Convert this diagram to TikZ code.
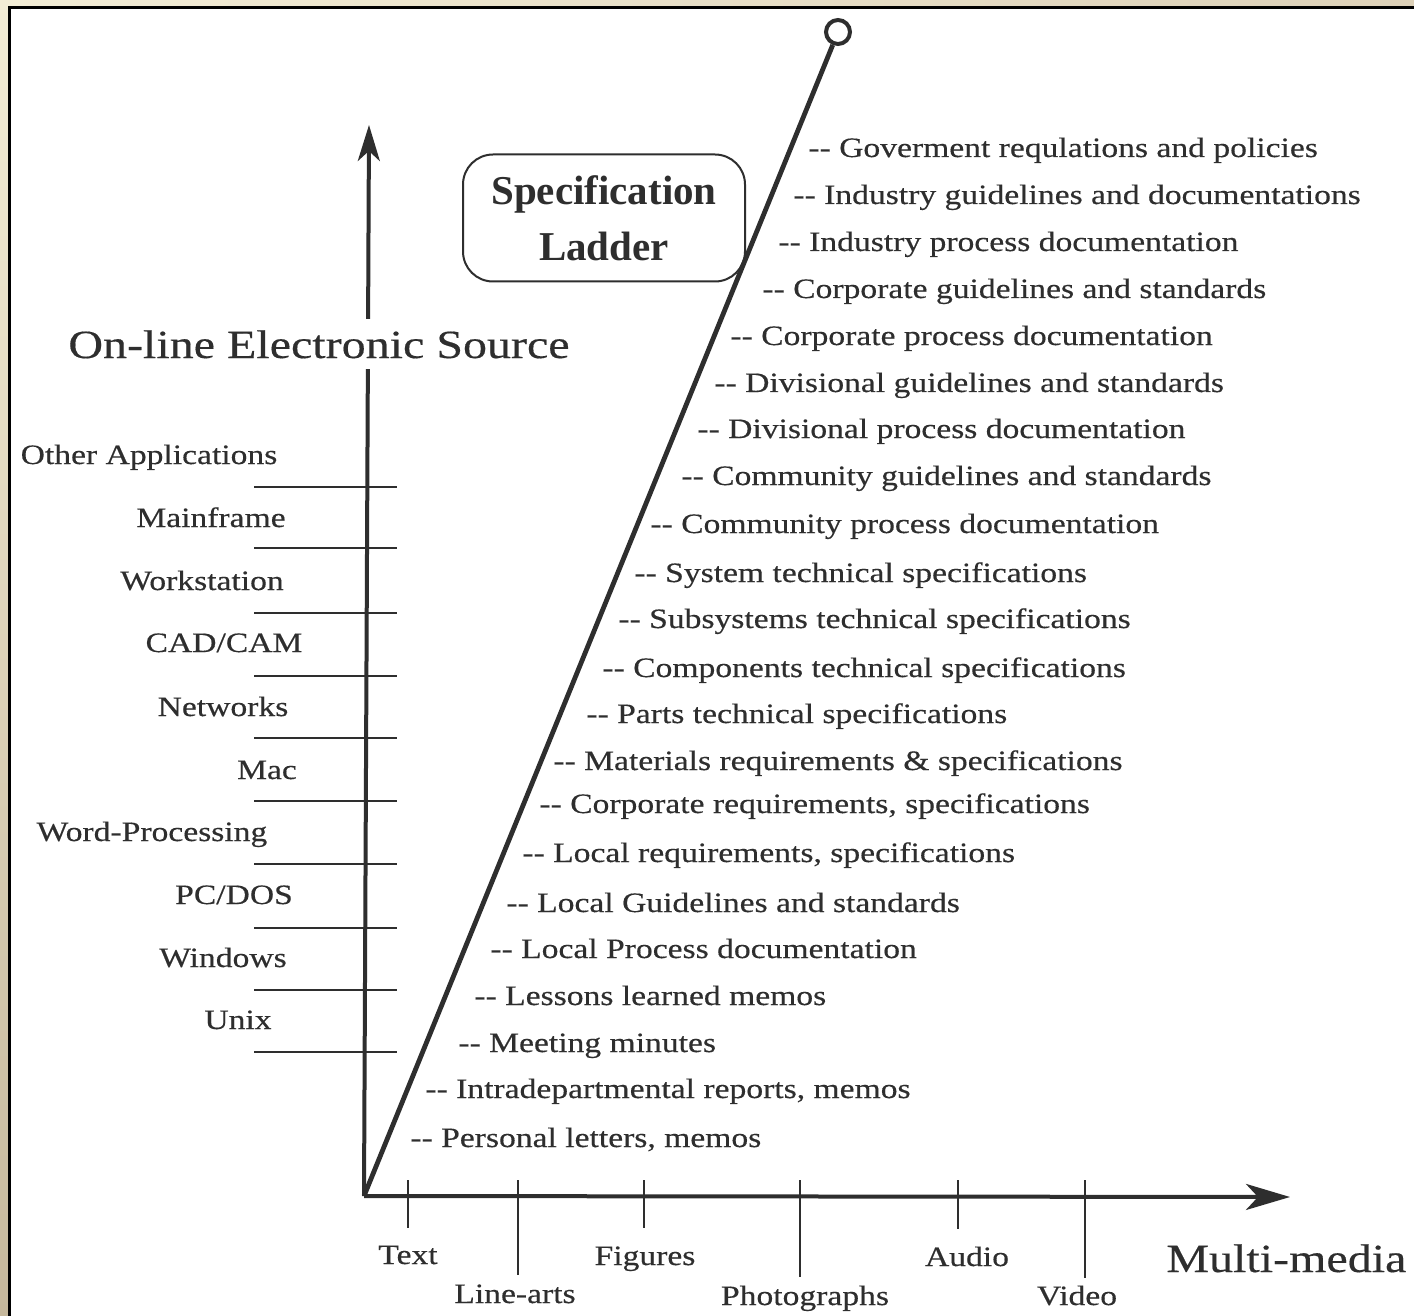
\documentclass[tikz,border=0pt]{standalone}
\usepackage{fontspec}
\setmainfont{Liberation Serif}[FakeStretch=1.2,FakeBold=0.4]
\newfontfamily\specfont{Liberation Serif}
\usetikzlibrary{arrows.meta}
\definecolor{ink}{HTML}{2E2E2E}
\definecolor{tanlight}{HTML}{F3EDD6}
\definecolor{tandark}{HTML}{C6B89C}
\definecolor{tanmid}{HTML}{DDD1B8}
\newcommand\mydd{-{}-}
\begin{document}
\begin{tikzpicture}[x=0.5pt,y=-0.5pt,
  txt/.style={inner sep=0pt,text=ink,font=\fontsize{14}{16}\selectfont},
  item/.style={txt,anchor=base west},
  lab/.style={txt,anchor=base},
  big/.style={inner sep=0pt,text=ink,font=\fontsize{20}{24}\selectfont,anchor=base west},
  axis/.style={draw=ink,line width=2pt},
  tick/.style={draw=ink,line width=0.9pt},
  specbox/.style={draw=ink,line width=1pt,rounded corners=15pt,minimum width=141pt,minimum height=63.5pt,inner sep=0pt},
  topring/.style={circle,draw=ink,line width=2pt,minimum size=12pt,inner sep=0pt,fill=white}
]
\useasboundingbox (0,0) rectangle (1414,1316);
% frame
\fill[tanmid] (0,0) rectangle (1414,1316);
\shade[left color=tanlight,right color=tanmid] (0,0) rectangle (1414,9);
\shade[top color=tanlight,bottom color=tandark] (0,0) rectangle (9,1316);
\fill[white] (9,8) rectangle (1414,1316);
\draw[black,line width=1.5pt] (9,1316) -- (9,8) -- (1414,8);

% axes
\coordinate (O) at (364,1196);
\coordinate (ytip) at (369,125);
\coordinate (xtip) at (1290,1197);
\node[topring] (ring) at (838,32) {};
\draw[axis,-{Stealth[length=18pt,width=11pt,inset=5pt]}] (O) -- (ytip);
\draw[axis,-{Stealth[length=22pt,width=13pt,inset=6pt]}] (O) -- (xtip);
\draw[axis,line width=2.4pt] (O) -- (ring);

% ticks on vertical axis
\foreach \y in {487,548,613,676,738,801,864,928,990,1052}
  \draw[tick] (254,\y) -- (397,\y);

% ticks on horizontal axis
\foreach \x/\e in {408/1228,518/1275,644/1228,800/1277,958/1229,1085/1278}
  \draw[tick] (\x,1180) -- (\x,\e);

% vertical axis labels
\node[big,fill=white,inner xsep=1pt,inner ysep=5.5pt] (vlab) at (66,358) {On-line Electronic Source};
\node[lab] (l1) at (149,464) {Other Applications};
\node[lab] (l2) at (211,527) {Mainframe};
\node[lab] (l3) at (202,590) {Workstation};
\node[lab] (l4) at (224,652) {CAD/CAM};
\node[lab] (l5) at (223,716) {Networks};
\node[lab] (l6) at (267,779) {Mac};
\node[lab] (l7) at (152,841) {Word-Processing};
\node[lab] (l8) at (234,904) {PC/DOS};
\node[lab] (l9) at (223,967) {Windows};
\node[lab] (l10) at (238,1029) {Unix};

% horizontal axis labels
\node[lab] (h1) at (408,1264) {Text};
\node[lab] (h2) at (515,1303) {Line-arts};
\node[lab] (h3) at (645,1265) {Figures};
\node[lab] (h4) at (805,1305) {Photographs};
\node[lab] (h5) at (967,1266) {Audio};
\node[lab] (h6) at (1077,1305) {Video};
\node[big] (hlab) at (1166,1272) {Multi-media};

% specification ladder box
\node[specbox] (spec) at (604,218) {};
\node[inner sep=0pt,text=ink,font=\specfont\bfseries\fontsize{20.5}{24}\selectfont,anchor=base] (s1) at (604,205) {Specification};
\node[inner sep=0pt,text=ink,font=\specfont\bfseries\fontsize{20.5}{24}\selectfont,anchor=base] (s2) at (604,261) {Ladder};

% ladder items
\node[item] (i1) at (808,157) {\mydd{} Goverment requlations and policies};
\node[item] (i2) at (793,204) {\mydd{} Industry guidelines and documentations};
\node[item] (i3) at (778,251) {\mydd{} Industry process documentation};
\node[item] (i4) at (762,298) {\mydd{} Corporate guidelines and standards};
\node[item] (i5) at (730,345) {\mydd{} Corporate process documentation};
\node[item] (i6) at (714,392) {\mydd{} Divisional guidelines and standards};
\node[item] (i7) at (697,438) {\mydd{} Divisional process documentation};
\node[item] (i8) at (681,485) {\mydd{} Community guidelines and standards};
\node[item] (i9) at (650,533) {\mydd{} Community process documentation};
\node[item] (i10) at (634,582) {\mydd{} System technical specifications};
\node[item] (i11) at (618,628) {\mydd{} Subsystems technical specifications};
\node[item] (i12) at (602,677) {\mydd{} Components technical specifications};
\node[item] (i13) at (586,723) {\mydd{} Parts technical specifications};
\node[item] (i14) at (553,770) {\mydd{} Materials requirements \& specifications};
\node[item] (i15) at (539,813) {\mydd{} Corporate requirements, specifications};
\node[item] (i16) at (522,862) {\mydd{} Local requirements, specifications};
\node[item] (i17) at (506,912) {\mydd{} Local Guidelines and standards};
\node[item] (i18) at (490,958) {\mydd{} Local Process documentation};
\node[item] (i19) at (474,1005) {\mydd{} Lessons learned memos};
\node[item] (i20) at (458,1052) {\mydd{} Meeting minutes};
\node[item] (i21) at (425,1098) {\mydd{} Intradepartmental reports, memos};
\node[item] (i22) at (410,1147) {\mydd{} Personal letters, memos};
\end{tikzpicture}
\end{document}
